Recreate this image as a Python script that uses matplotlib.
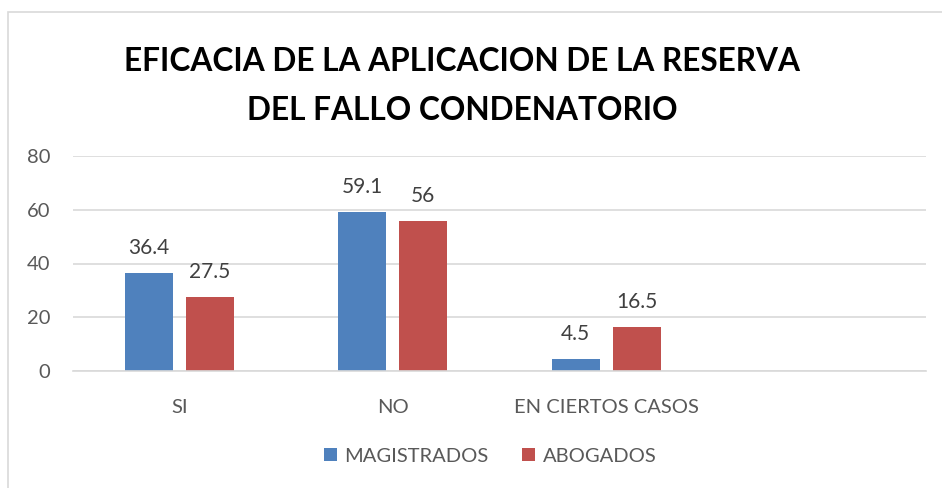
import matplotlib.pyplot as plt
import numpy as np
from matplotlib.patches import Rectangle

categories = ['SI', 'NO', 'EN CIERTOS CASOS', '']
magistrados = [36.4, 59.1, 4.5, np.nan]
abogados = [27.5, 56, 16.5, np.nan]
series_names = ['MAGISTRADOS', 'ABOGADOS']
y_ticks = [0, 20, 40, 60, 80]
title = 'EFICACIA DE LA APLICACION DE LA RESERVA\nDEL FALLO CONDENATORIO'

plt.rcParams['font.family'] = ['Lato', 'DejaVu Sans']

W, H = 942, 488
fig = plt.figure(figsize=(W / 100, H / 100), dpi=100)

# chart area border (only left and top visible in the crop)
fig.patches.append(Rectangle((8 / W, -0.1), 1.2, (H - 12) / H + 0.1, transform=fig.transFigure,
                             fill=False, edgecolor='#D9D9D9', linewidth=1.2))

ax = fig.add_axes([73 / W, (H - 371) / H, (926 - 73) / W, (371 - 156) / H])

x = np.arange(len(categories))
width = 0.225
offset = 0.143
blue = '#4F81BD'
red = '#C0504D'

b1 = ax.bar(x - offset, magistrados, width, color=blue, label=series_names[0])
b2 = ax.bar(x + offset, abogados, width, color=red, label=series_names[1])

for bars, vals in [(b1, magistrados), (b2, abogados)]:
    for bar, v in zip(bars, vals):
        if np.isnan(v):
            continue
        ax.text(bar.get_x() + bar.get_width() / 2, v + 9.3, f'{v:g}', ha='center', va='center',
                fontsize=15, color='#404040')

ax.set_xlim(-0.5, len(categories) - 0.5)
ax.set_ylim(0, 80)
ax.set_yticks(y_ticks)
ax.set_xticks(x)
ax.set_xticklabels(categories)
ax.grid(axis='y', color='#D9D9D9', linewidth=1.2)
ax.set_axisbelow(True)
for s in ['top', 'right', 'left']:
    ax.spines[s].set_visible(False)
ax.spines['bottom'].set_color('#D9D9D9')
ax.spines['bottom'].set_linewidth(1.2)
ax.tick_params(axis='both', length=0, labelsize=14.5, labelcolor='#595959')
ax.tick_params(axis='y', pad=16.5)
ax.tick_params(axis='x', pad=20)

fig.text(462 / W, 1 - 86 / H, title, ha='center', va='center', fontsize=22.8, fontweight='bold',
         color='black', linespacing=1.8)

fig.legend(handles=[b1, b2], loc='center', bbox_to_anchor=(490 / W, 1 - 456 / H), ncol=2, frameon=False,
           fontsize=14.5, labelcolor='#595959', handlelength=0.65, handleheight=0.65, handletextpad=0.35,
           columnspacing=1.7)

fig.savefig('out.png', dpi=100)
